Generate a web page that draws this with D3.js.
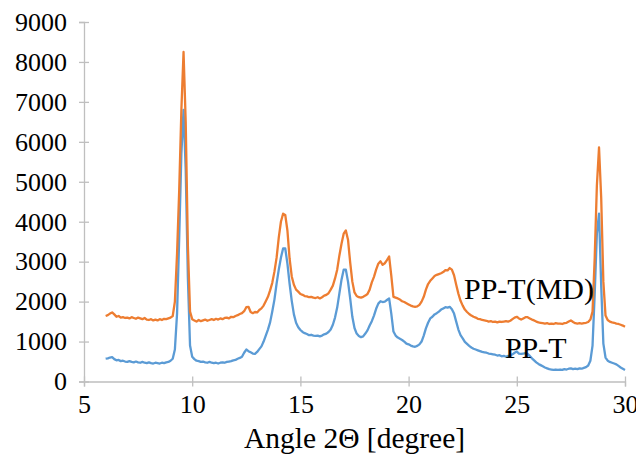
<!DOCTYPE html>
<html>
<head>
<meta charset="utf-8">
<script src="https://cdn.jsdelivr.net/npm/d3@7/dist/d3.min.js"></script>
<style>
  html, body { margin: 0; padding: 0; background: #fff; }
  svg { display: block; }
  svg text { font-family: "Liberation Serif", "Times New Roman", serif; }
</style>
</head>
<body>
<svg id="chart" width="636" height="457"></svg>
<script>
// Diffraction angle 2θ (degrees), sampled every 0.1°
const angles = d3.range(60, 301).map(i => i / 10);

// Intensity of PP-T (counts)
const ppT = [
  570, 580, 600, 610, 560, 530, 540, 510, 520, 500,
  490, 510, 490, 480, 500, 480, 470, 490, 470, 460,
  480, 460, 450, 470, 460, 450, 470, 460, 480, 490,
  520, 570, 800, 1700, 3600, 5700, 6800, 5300, 2600, 900,
  620, 560, 520, 510, 490, 500, 480, 470, 490, 470,
  460, 470, 450, 470, 480, 470, 490, 500, 510, 530,
  540, 570, 590, 620, 720, 800, 760, 730, 700, 690,
  740, 810, 880, 1000, 1150, 1300, 1480, 1750, 2050, 2450,
  2800, 3100, 3330, 3330, 2950, 2450, 2020, 1680, 1470, 1360,
  1290, 1240, 1210, 1190, 1160, 1170, 1150, 1140, 1150, 1130,
  1150, 1180, 1200, 1240, 1300, 1420, 1600, 1850, 2200, 2550,
  2800, 2800, 2500, 2080, 1620, 1340, 1200, 1140, 1110, 1130,
  1200, 1280, 1400, 1510, 1650, 1820, 1950, 2010, 1990, 2000,
  2040, 2080, 1700, 1250, 1150, 1100, 1070, 1040, 1000, 950,
  930, 900, 880, 870, 890, 930, 1000, 1150, 1330, 1470,
  1580, 1620, 1680, 1710, 1750, 1800, 1830, 1860, 1850, 1870,
  1810, 1700, 1500, 1300, 1160, 1080, 990, 940, 890, 850,
  820, 800, 780, 760, 740, 730, 720, 700, 690, 680,
  670, 650, 660, 630, 640, 620, 640, 650, 680, 720,
  750, 700, 690, 700, 710, 690, 640, 580, 530, 480,
  440, 410, 380, 350, 330, 310, 300, 290, 300, 290,
  300, 290, 310, 300, 320, 330, 310, 320, 310, 330,
  320, 340, 360, 400, 520, 900, 2200, 3700, 4200, 2400,
  950, 600, 520, 490, 470, 450, 430, 390, 350, 320,
  290
];

// Intensity of PP-T(MD) (counts)
const ppTMD = [
  1640, 1660, 1700, 1730, 1680, 1620, 1640, 1600, 1610, 1590,
  1600, 1580, 1610, 1590, 1570, 1600, 1580, 1560, 1590, 1550,
  1540, 1560, 1530, 1550, 1530, 1560, 1540, 1570, 1560, 1580,
  1600, 1640, 2000, 3200, 4800, 6800, 8250, 6500, 3400, 1750,
  1560, 1530, 1500, 1540, 1510, 1530, 1550, 1520, 1540, 1560,
  1540, 1570, 1550, 1580, 1560, 1590, 1600, 1580, 1620, 1610,
  1640, 1660, 1690, 1710, 1760, 1860, 1870, 1740, 1710, 1740,
  1730, 1790, 1830, 1900, 2010, 2120, 2280, 2470, 2750, 3100,
  3600, 4000, 4200, 4170, 3780, 3080, 2630, 2420, 2300, 2250,
  2190, 2170, 2140, 2130, 2110, 2120, 2100, 2090, 2110, 2080,
  2110, 2150, 2170, 2210, 2300, 2400, 2580, 2800, 3150, 3450,
  3700, 3780, 3550, 2980, 2500, 2230, 2140, 2110, 2100, 2120,
  2150, 2190, 2300, 2480, 2620, 2800, 2950, 3010, 2920, 2960,
  3040, 3130, 2650, 2120, 2100, 2080, 2050, 2010, 1990, 1960,
  1930, 1900, 1880, 1870, 1880, 1920, 2000, 2120, 2300, 2440,
  2520, 2580, 2640, 2670, 2690, 2710, 2740, 2790, 2780, 2840,
  2800, 2660, 2420, 2200, 2020, 1900, 1800, 1740, 1690, 1650,
  1620, 1600, 1570, 1560, 1540, 1530, 1520, 1500, 1510, 1490,
  1500, 1480, 1500, 1490, 1500, 1510, 1500, 1520, 1560, 1600,
  1620, 1580, 1550, 1580, 1610, 1610, 1580, 1550, 1530, 1500,
  1480, 1470, 1460, 1450, 1460, 1440, 1450, 1440, 1460, 1450,
  1450, 1440, 1460, 1470, 1500, 1530, 1490, 1460, 1450, 1460,
  1450, 1460, 1470, 1490, 1550, 1750, 3100, 4900, 5860, 4600,
  2500, 1650, 1540, 1500, 1480, 1470, 1450, 1440, 1420, 1400,
  1370
];

const xTicks = [5, 10, 15, 20, 25, 30];
const yTicks = [0, 1000, 2000, 3000, 4000, 5000, 6000, 7000, 8000, 9000];

const seriesNames = ["PP-T", "PP-T(MD)"];
const seriesColors = ["#5b9bd5", "#ed7d31"];
// label anchor (angle, intensity) for each series name
const labelAngles = [24.45, 22.56];
const labelValues = [596, 2058];

const width = 636, height = 457;
const margin = { top: 22, right: 11, bottom: 75.5, left: 84 };
const serif = "'Liberation Serif', 'Times New Roman', serif";

const svg = d3.select("#chart");

const x = d3.scaleLinear().domain([5, 30]).range([margin.left, width - margin.right]);
const y = d3.scaleLinear().domain([0, 9000]).range([height - margin.bottom, margin.top]);

const axisColor = "#bfbfbf";
const tickFont = 26;

// y axis, tick marks crossing the axis line
const yAxis = svg.append("g")
  .attr("transform", `translate(${margin.left},0)`)
  .call(d3.axisLeft(y).tickValues(yTicks).tickFormat(d3.format("d")).tickSize(5).tickPadding(12));
yAxis.attr("font-family", serif);
yAxis.select(".domain").attr("stroke", axisColor).attr("stroke-width", 1.3);
yAxis.selectAll(".tick line").attr("stroke", axisColor).attr("stroke-width", 1.3).attr("x1", 5);
yAxis.selectAll(".tick text")
  .attr("fill", "#000")
  .style("font-family", serif)
  .style("font-size", tickFont + "px");

// x axis
const xAxis = svg.append("g")
  .attr("transform", `translate(0,${height - margin.bottom})`)
  .call(d3.axisBottom(x).tickValues(xTicks).tickSize(5).tickPadding(8));
xAxis.attr("font-family", serif);
xAxis.select(".domain").attr("stroke", axisColor).attr("stroke-width", 1.3);
xAxis.selectAll(".tick line").attr("stroke", axisColor).attr("stroke-width", 1.3).attr("y1", -5);
xAxis.selectAll(".tick text")
  .attr("fill", "#000")
  .style("font-family", serif)
  .style("font-size", tickFont + "px");

// x axis title
svg.append("text")
  .attr("x", (margin.left + width - margin.right) / 2)
  .attr("y", 448)
  .attr("text-anchor", "middle")
  .attr("fill", "#000")
  .style("font-family", serif)
  .style("font-size", "29.5px")
  .text("Angle 2Θ [degree]");

// diffraction curves
const line = d3.line()
  .x((d, i) => x(angles[i]))
  .y(d => y(d));

[ppT, ppTMD].forEach((vals, k) => {
  svg.append("path")
    .datum(vals)
    .attr("fill", "none")
    .attr("stroke", seriesColors[k])
    .attr("stroke-width", 2.3)
    .attr("stroke-linejoin", "round")
    .attr("d", line);
});

// series labels
seriesNames.forEach((name, k) => {
  svg.append("text")
    .attr("x", x(labelAngles[k]))
    .attr("y", y(labelValues[k]))
    .attr("fill", "#000")
    .style("font-family", serif)
    .style("font-size", "30px")
    .text(name);
});
</script>
</body>
</html>
